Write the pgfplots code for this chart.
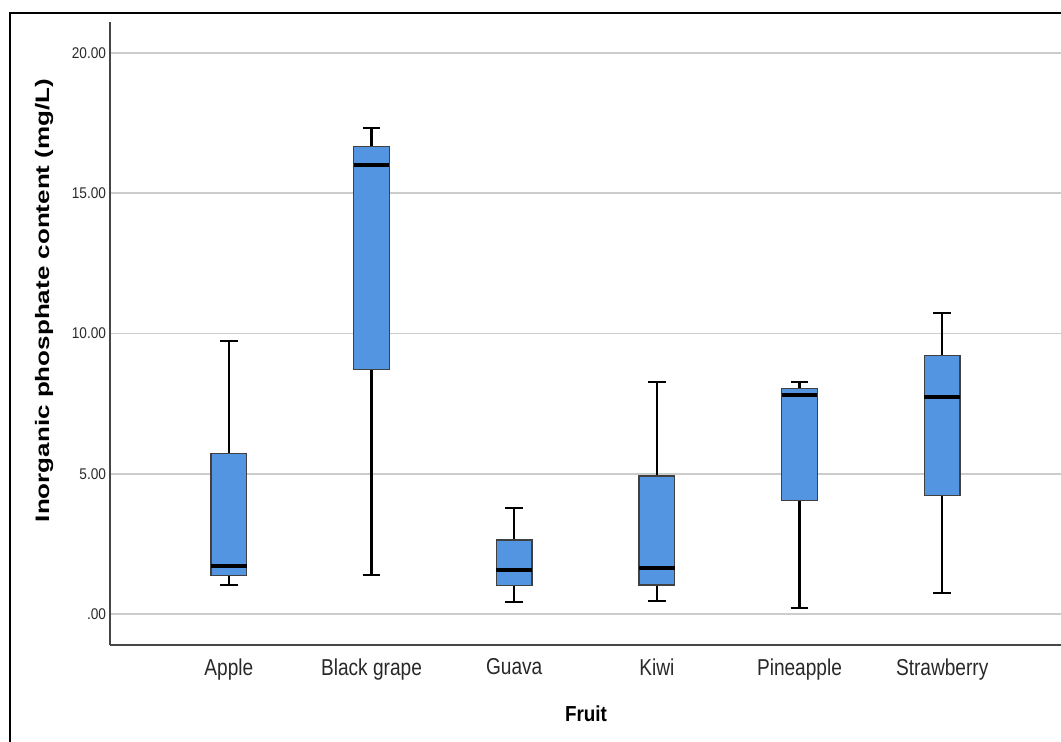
\documentclass[border=0pt]{standalone}
\usepackage{pgfplots}
\pgfplotsset{compat=1.18}
\usepgfplotslibrary{statistics}
\usepackage{fontspec}
\setmainfont{Liberation Sans}
\definecolor{boxblue}{RGB}{84,149,226}
\definecolor{gridgray}{RGB}{204,204,204}
\definecolor{axisgray}{RGB}{70,70,70}
\definecolor{labelgray}{RGB}{40,40,40}

\begin{document}
\begin{tikzpicture}[x=1pt,y=1pt]
\useasboundingbox (0,0) rectangle (1061,742);
% outer chart frame
\draw[line width=2.5pt, black] (10,0) -- (10,729) -- (1061,729);
\begin{axis}[
  at={(110pt,97pt)}, anchor=south west,
  width=951pt, height=623pt, scale only axis,
  xmin=-0.833, xmax=5.833, ymin=-1.1, ymax=21.1,
  axis x line=bottom, axis y line=left,
  axis line style={-, axisgray, line width=1.4pt},
  major tick length=0pt,
  ymajorgrids, grid style={gridgray, line width=1.6pt},
  ytick={0,5,10,15,20},
  yticklabels={.00,5.00,10.00,15.00,20.00},
  yticklabel style={font=\fontsize{15.5}{15.5}\selectfont, text=labelgray, xscale=0.88, xshift=-1pt},
  xtick={0,1,2,3,4,5},
  xticklabels={Apple,Black grape,Guava,Kiwi,Pineapple,Strawberry},
  xticklabel style={font=\fontsize{23}{23}\selectfont, text=labelgray, xscale=0.83, yshift=-10pt},
  ylabel={Inorganic phosphate content (mg/L)},
  xlabel={Fruit},
  every axis y label/.style={at={(axis description cs:-0.0694,0.553)}, rotate=90, yscale=0.75, anchor=center, font=\fontsize{26}{26}\bfseries\selectfont},
  every axis x label/.style={at={(axis description cs:0.5005,-0.1108)}, anchor=center, xscale=0.87, font=\fontsize{21.7}{21.7}\bfseries\selectfont},
  boxplot/draw direction=y,
  boxplot/box extend=0.25,
  boxplot/whisker extend=0.126,
  boxplot/every box/.style={fill=boxblue, draw=black!75, line width=1.2pt},
  boxplot/every median/.style={black, line width=4pt},
  boxplot/every whisker/.style={black, line width=2.2pt},
]
% Apple
\addplot[boxplot prepared={draw position=0, lower whisker=1.05, lower quartile=1.39, median=1.73, upper quartile=5.73, upper whisker=9.72}] coordinates {};
% Black grape
\addplot[boxplot prepared={draw position=1, lower whisker=1.40, lower quartile=8.71, median=16.01, upper quartile=16.66, upper whisker=17.32}] coordinates {};
% Guava
\addplot[boxplot prepared={draw position=2, lower whisker=0.44, lower quartile=1.01, median=1.58, upper quartile=2.64, upper whisker=3.78}] coordinates {};
% Kiwi
\addplot[boxplot prepared={draw position=3, lower whisker=0.47, lower quartile=1.04, median=1.65, upper quartile=4.92, upper whisker=8.26}] coordinates {};
% Pineapple
\addplot[boxplot prepared={draw position=4, lower whisker=0.23, lower quartile=4.06, median=7.82, upper quartile=8.04, upper whisker=8.26}] coordinates {};
% Strawberry
\addplot[boxplot prepared={draw position=5, lower whisker=0.76, lower quartile=4.23, median=7.73, upper quartile=9.21, upper whisker=10.74}] coordinates {};
\end{axis}
\end{tikzpicture}
\end{document}
